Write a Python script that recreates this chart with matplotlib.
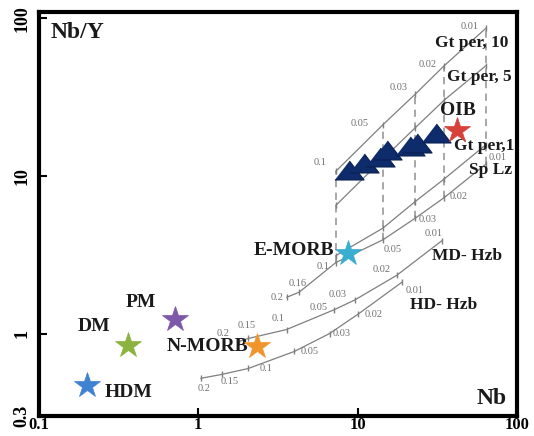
import matplotlib
matplotlib.use("Agg")
import matplotlib.pyplot as plt

# melting models: melt fraction F -> (Nb, Nb/Y)
F_gt = [0.1, 0.05, 0.03, 0.02, 0.01]
gt_nb = [7.3, 14.4, 23, 35, 64]
gt10_ratio = [10.7, 21.1, 33.0, 50.1, 86.6]
gt5_ratio = [6.5, 12.8, 20.2, 30.3, 50.1]
gt1_ratio = [3.12, 4.66, 6.88, 9.57, 15.8]

F_sp = [0.2, 0.16, 0.1, 0.05, 0.03, 0.02, 0.01]
sp_nb = [3.6, 4.3, 7.3, 14.4, 23, 35, 64]
sp_ratio = [1.70, 1.83, 2.82, 3.93, 5.39, 7.29, 11.9]

F_hzb = [0.2, 0.15, 0.1, 0.05, 0.03, 0.02, 0.01]
md_nb = [1.79, 2.06, 3.58, 7.06, 9.57, 17.6, 33.7]
md_ratio = [0.89, 0.93, 1.06, 1.41, 1.63, 2.34, 3.87]
hd_nb = [1.04, 1.40, 2.06, 4.01, 6.67, 10.1, 18.9]
hd_ratio = [0.52, 0.55, 0.60, 0.77, 1.0, 1.33, 2.11]

# reservoirs
res_names = ["HDM", "DM", "PM", "N-MORB", "E-MORB", "OIB"]
res_nb = [0.2, 0.36, 0.71, 2.33, 8.7, 42]
res_ratio = [0.47, 0.84, 1.24, 0.83, 3.25, 19.7]
res_colors = ["#3f82d2", "#8cb23f", "#7d58a8", "#f0952c", "#3aaecf", "#d8403a"]

# samples
sample_nb = [8.8, 10.9, 13.8, 15.2, 21.3, 23.5, 31.0]
sample_ratio = [10.9, 12.1, 13.1, 14.5, 15.4, 16.1, 18.6]

serif = "Liberation Serif"
fig = plt.figure(figsize=(5.34, 4.36), dpi=100)
ax = fig.add_axes([0.073, 0.046, 0.895, 0.927])
ax.set_xscale("log")
ax.set_yscale("log")
ax.set_xlim(0.1, 100)
ax.set_ylim(0.3, 110)

# dashed tie lines between equal melt fractions
sp_at_gt = sp_ratio[2:]
ax.vlines(gt_nb, sp_at_gt, gt10_ratio, colors="#a0a0a0", linestyles=(0, (4, 3)), lw=1.3, zorder=1)

line_kw = dict(color="#7f7f7f", lw=0.9, marker="|", ms=4, mew=1, zorder=2)
for r in [gt10_ratio, gt5_ratio, gt1_ratio]:
    ax.plot(gt_nb, r, **line_kw)
ax.plot(sp_nb, sp_ratio, **line_kw)
ax.plot(md_nb, md_ratio, **line_kw)
ax.plot(hd_nb, hd_ratio, **line_kw)

lab_kw = dict(textcoords="offset points", fontsize=7.5, color="#707070",
              family=serif, ha="center", va="center")

def flabels(fs, xs, ys, offs):
    for f, x, y, o in zip(fs, xs, ys, offs):
        ax.annotate("%g" % f, (x, y), xytext=o, **lab_kw)

flabels(F_gt, gt_nb, gt10_ratio, [(-11, 6), (-17, 1), (-12, 5), (-12, 1), (-12, 1)])
flabels(F_sp, sp_nb, sp_ratio, [(-7, 0), (-1, 6), (-9, -3), (7, -7), (9, -1), (10, 1), (8, 5)])
flabels(F_hzb, md_nb, md_ratio, [(-11, 6), (-1, 9), (-6, 8), (-11, 2), (-12, 4), (-11, 4), (-6, 5)])
flabels(F_hzb, hd_nb, hd_ratio, [(2, -7), (6, -5), (13, 0), (11, 0), (9, 0), (11, 0), (9, -6)])

# samples
ax.plot(sample_nb, sample_ratio, ls="none",
        marker=[(-1, -0.65), (1, -0.65), (0, 0.65)], ms=21,
        mfc="#0e2b6c", mec="#0a1f4e", mew=0.8, zorder=4)

# reservoirs
for x, y, c in zip(res_nb, res_ratio, res_colors):
    ax.plot(x, y, marker="*", ms=19, mfc=c, mec=c, mew=0.5, ls="none", zorder=5)

big = dict(family=serif, fontweight="bold", color="#1a1a1a")
res_offsets = [(13, -5), (-24, 14), (-24, 12), (-6, 0), (-10, 2), (-12, 14)]
res_ha = ["left", "center", "center", "right", "right", "left"]
for name, x, y, o, h in zip(res_names, res_nb, res_ratio, res_offsets, res_ha):
    ax.annotate(name, (x, y), xytext=o, textcoords="offset points",
                ha=h, va="center", fontsize=14, **big)

curve_names = ["Gt per, 10", "Gt per, 5", "Gt per,1", "Sp Lz", "MD- Hzb", "HD- Hzb"]
curve_ends = [(gt_nb[-1], gt10_ratio[-1]), (gt_nb[-1], gt5_ratio[-1]),
              (gt_nb[-1], gt1_ratio[-1]), (sp_nb[-1], sp_ratio[-1]),
              (md_nb[-1], md_ratio[-1]), (hd_nb[-1], hd_ratio[-1])]
curve_offsets = [(-37, -11), (-28, -8), (-23, -1), (-12, -4), (-7, -11), (6, -16)]
for name, xy, o in zip(curve_names, curve_ends, curve_offsets):
    ax.annotate(name, xy, xytext=o, textcoords="offset points",
                ha="left", va="center", fontsize=12.5, **big)

ax.text(0.025, 0.975, "Nb/Y", transform=ax.transAxes, ha="left", va="top", fontsize=17, **big)
ax.text(0.979, 0.03, "Nb", transform=ax.transAxes, ha="right", va="baseline", fontsize=17, **big)

ax.set_xticks([0.1, 1, 10, 100])
ax.set_xticklabels(["0.1", "1", "10", "100"])
ax.set_yticks([0.3, 1, 10, 100])
ax.set_yticklabels(["0.3", "1", "10", "100"])
ax.minorticks_off()
ax.tick_params(direction="in", length=6, width=1.5, labelsize=12, pad=1)
ax.tick_params(axis="y", labelrotation=90, pad=6, labelsize=13)
for lab in ax.get_xticklabels() + ax.get_yticklabels():
    lab.set_family(serif)
    lab.set_fontweight("bold")
for lab in ax.get_yticklabels():
    lab.set_va("center")

for s in ax.spines.values():
    s.set_linewidth(3)

fig.savefig("out.png", dpi=100)
